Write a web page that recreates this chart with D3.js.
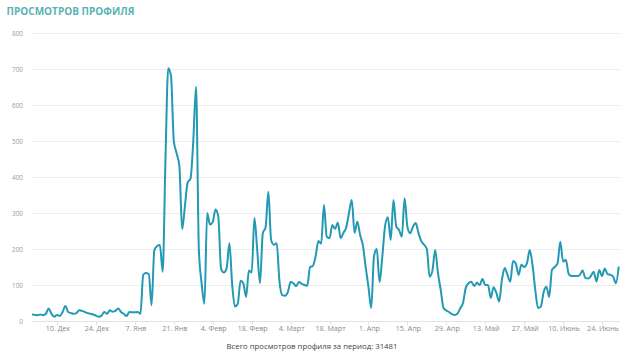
<!DOCTYPE html>
<html><head><meta charset="utf-8">
<script src="https://cdn.jsdelivr.net/npm/d3@7"></script>
<style>
html,body{margin:0;padding:0;background:#fff;}
svg{display:block;font-family:"Open Sans",sans-serif;}
</style></head>
<body>
<svg id="c" width="623" height="359"></svg>
<script>
const title = "ПРОСМОТРОВ ПРОФИЛЯ";
const footer = "Всего просмотров профиля за период: 31481";
const startDate = "2018-12-01";
const views = [
 18,17,16,18,16,20,35,20,12,17, 14,25,42,25,22,20,22,30,28,25,
 22,20,18,15,12,15,25,20,30,26, 28,35,25,20,14,25,24,24,25,20,
 128,133,130,44,197,208,211,137,450,702, 680,500,466,430,255,320,385,395,500,651,
 200,105,48,300,268,275,310,290,145,135, 147,216,100,40,48,112,105,67,140,135,
 286,197,105,244,260,359,225,212,216,110, 72,70,80,108,105,97,108,103,100,98,
 150,153,180,222,215,322,234,230,267,256, 273,230,245,260,300,336,245,276,239,210,
 150,95,36,180,200,108,180,265,288,225, 336,262,253,234,341,262,244,262,272,244,
 222,212,200,123,140,197,133,86,36,29, 25,19,17,20,35,50,92,105,109,97,
 106,100,117,100,100,64,94,78,54,114, 147,128,109,167,160,128,156,150,160,197,
 156,86,36,40,80,95,67,142,150,160, 220,165,170,131,125,125,125,128,140,120,
 118,125,137,110,142,125,146,130,128,123, 105,151
];
const yTicks = [0,100,200,300,400,500,600,700,800];
const xTickDates = ["2018-12-10","2018-12-24","2019-01-07","2019-01-21","2019-02-04","2019-02-18","2019-03-04","2019-03-18","2019-04-01","2019-04-15","2019-04-29","2019-05-13","2019-05-27","2019-06-10","2019-06-24"];
const xTickLabels = ["10. Дек","24. Дек","7. Янв","21. Янв","4. Февр","18. Февр","4. Март","18. Март","1. Апр","15. Апр","29. Апр","13. Май","27. Май","10. Июнь","24. Июнь"];

const parse = d3.utcParse("%Y-%m-%d");
const t0 = parse(startDate);
const data = views.map((v,i)=>({d:d3.utcDay.offset(t0,i), v}));

const svg = d3.select("#c");
const x = d3.scaleUtc().domain([data[0].d, data[data.length-1].d]).range([32, 618.7]);
const y = d3.scaleLinear().domain([0,800]).range([321,33]);

// font size that makes a sample string reach a target width
function fitSize(str, targetW, weight){
  const t = svg.append("text").attr("font-size",100).attr("font-weight",weight||400).text(str);
  const w = t.node().getComputedTextLength();
  t.remove();
  return 100*targetW/w;
}

svg.append("text").attr("x",6.5).attr("y",14.5).attr("fill","#58b3b5")
  .attr("font-size",fitSize(title,128,700)).attr("font-weight",700).text(title);

// gridlines + y labels
const gy = svg.append("g");
gy.selectAll("line").data(yTicks.filter(d=>d>0)).join("line")
  .attr("x1",32).attr("x2",620).attr("y1",d=>y(d)+0.5).attr("y2",d=>y(d)+0.5)
  .attr("stroke","#ececec").attr("stroke-width",1);
const yfs = fitSize("800",11);
gy.selectAll("text").data(yTicks).join("text")
  .attr("x",23).attr("y",d=>y(d)+2.5).attr("text-anchor","end")
  .attr("font-size",yfs).attr("fill","#9a9a9a").text(d=>d);

// x axis
svg.append("line").attr("x1",32).attr("x2",620).attr("y1",321.5).attr("y2",321.5).attr("stroke","#dbe3ee");
const xt = svg.append("g");
const tickDates = xTickDates.map(parse);
xt.selectAll("line").data(tickDates).join("line")
  .attr("x1",d=>Math.round(x(d))+0.5).attr("x2",d=>Math.round(x(d))+0.5).attr("y1",321).attr("y2",325)
  .attr("stroke","#dbe3ee");
const xfs = fitSize(xTickLabels[0],24.5);
xt.selectAll("text").data(tickDates).join("text")
  .attr("x",d=>x(d)+1).attr("y",331).attr("text-anchor","middle")
  .attr("font-size",xfs).attr("fill","#8a8a8a").text((d,i)=>xTickLabels[i]);

// line
const line = d3.line().x(d=>x(d.d)).y(d=>y(d.v)).curve(d3.curveMonotoneX);
svg.append("path").datum(data).attr("d",line).attr("fill","none")
  .attr("stroke","#2399b3").attr("stroke-width",2).attr("stroke-linejoin","round");

svg.append("text").attr("x",312).attr("y",349).attr("text-anchor","middle")
  .attr("font-size",fitSize(footer,171)).attr("fill","#444").text(footer);
</script>
</body></html>
